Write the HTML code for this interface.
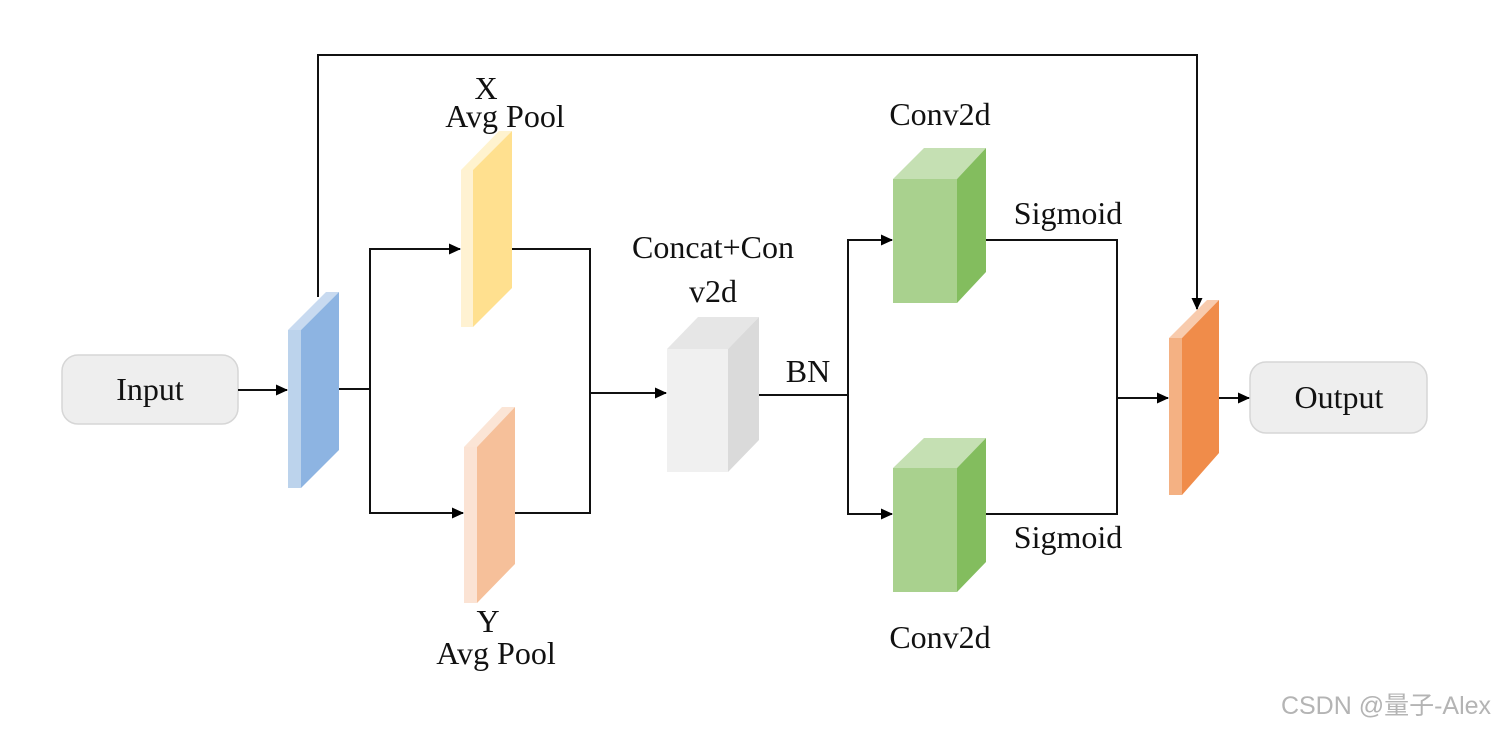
<!DOCTYPE html>
<html><head><meta charset="utf-8"><style>
html,body{margin:0;padding:0;background:#fff}
svg{display:block}
text{font-family:"Liberation Serif",serif;font-size:32px;fill:#111}
</style></head><body>
<svg width="1506" height="731" viewBox="0 0 1506 731" xmlns="http://www.w3.org/2000/svg">
<defs><marker id="a" markerWidth="12" markerHeight="12" refX="11" refY="6" orient="auto" markerUnits="userSpaceOnUse"><path d="M0,0.5 L12,6 L0,11.5 z" fill="#000"/></marker></defs>
<rect width="1506" height="731" fill="#fff"/>
<rect x="62" y="355" width="176" height="69" rx="16" fill="#eeeeee" stroke="#d6d6d6" stroke-width="1.5"/>
<text x="150" y="400" text-anchor="middle">Input</text>
<rect x="1250" y="362" width="177" height="71" rx="16" fill="#eeeeee" stroke="#d6d6d6" stroke-width="1.5"/>
<text x="1339" y="408" text-anchor="middle">Output</text>
<g stroke="#111" stroke-width="2" fill="none">
<line x1="238" y1="390" x2="287" y2="390" marker-end="url(#a)"/>
<polyline points="318,297 318,55 1197,55 1197,309" marker-end="url(#a)"/>
<line x1="339" y1="389" x2="370" y2="389"/>
<polyline points="370,389 370,249 460,249" marker-end="url(#a)"/>
<polyline points="370,389 370,513 463,513" marker-end="url(#a)"/>
<polyline points="512,249 590,249 590,513 515,513"/>
<line x1="590" y1="393" x2="666" y2="393" marker-end="url(#a)"/>
<line x1="759" y1="395" x2="848" y2="395"/>
<polyline points="848,395 848,240 892,240" marker-end="url(#a)"/>
<polyline points="848,395 848,514 892,514" marker-end="url(#a)"/>
<polyline points="986,240 1117,240 1117,514 986,514"/>
<line x1="1117" y1="398" x2="1168" y2="398" marker-end="url(#a)"/>
<line x1="1219" y1="398" x2="1249" y2="398" marker-end="url(#a)"/>
</g>
<polygon points="288,330 326,292 339,292 301,330" fill="#c8daf0"/>
<rect x="288" y="330" width="13" height="158" fill="#bcd3ec"/>
<polygon points="301,330 339,292 339,450 301,488" fill="#8db4e2"/>
<polygon points="461,170 499,131 512,131 473,170" fill="#fff3cf"/>
<rect x="461" y="170" width="12" height="157" fill="#fff2d2"/>
<polygon points="473,170 512,131 512,288 473,327" fill="#ffe08f"/>
<polygon points="464,447 502,407 515,407 477,447" fill="#fbe5d6"/>
<rect x="464" y="447" width="13" height="156" fill="#fbe3d4"/>
<polygon points="477,447 515,407 515,564 477,603" fill="#f6c09a"/>
<polygon points="667,349 698,317 759,317 728,349" fill="#e6e6e6"/>
<rect x="667" y="349" width="61" height="123" fill="#f0f0f0"/>
<polygon points="728,349 759,317 759,440 728,472" fill="#dadada"/>
<polygon points="893,179 924,148 986,148 957,179" fill="#c5e0b3"/>
<rect x="893" y="179" width="64" height="124" fill="#a9d18e"/>
<polygon points="957,179 986,148 986,272 957,303" fill="#83bd5e"/>
<polygon points="893,468 924,438 986,438 957,468" fill="#c5e0b3"/>
<rect x="893" y="468" width="64" height="124" fill="#a9d18e"/>
<polygon points="957,468 986,438 986,562 957,592" fill="#83bd5e"/>
<polygon points="1169,338 1207,300 1219,300 1182,338" fill="#f8cbad"/>
<rect x="1169" y="338" width="13" height="157" fill="#f4b183"/>
<polygon points="1182,338 1219,300 1219,453 1182,495" fill="#f08c4a"/>
<text x="486" y="99" text-anchor="middle">X</text>
<text x="505" y="127" text-anchor="middle">Avg Pool</text>
<text x="488" y="632" text-anchor="middle">Y</text>
<text x="496" y="664" text-anchor="middle">Avg Pool</text>
<text x="940" y="125" text-anchor="middle">Conv2d</text>
<text x="940" y="648" text-anchor="middle">Conv2d</text>
<text x="713" y="258" text-anchor="middle">Concat+Con</text>
<text x="713" y="302" text-anchor="middle">v2d</text>
<text x="808" y="382" text-anchor="middle">BN</text>
<text x="1068" y="224" text-anchor="middle">Sigmoid</text>
<text x="1068" y="548" text-anchor="middle">Sigmoid</text>
<text x="1386" y="714" text-anchor="middle" style="font-family:'Liberation Sans','Noto Sans CJK SC',sans-serif;font-size:25px;fill:#b4b4b4">CSDN @量子-Alex</text>
</svg>
</body></html>
